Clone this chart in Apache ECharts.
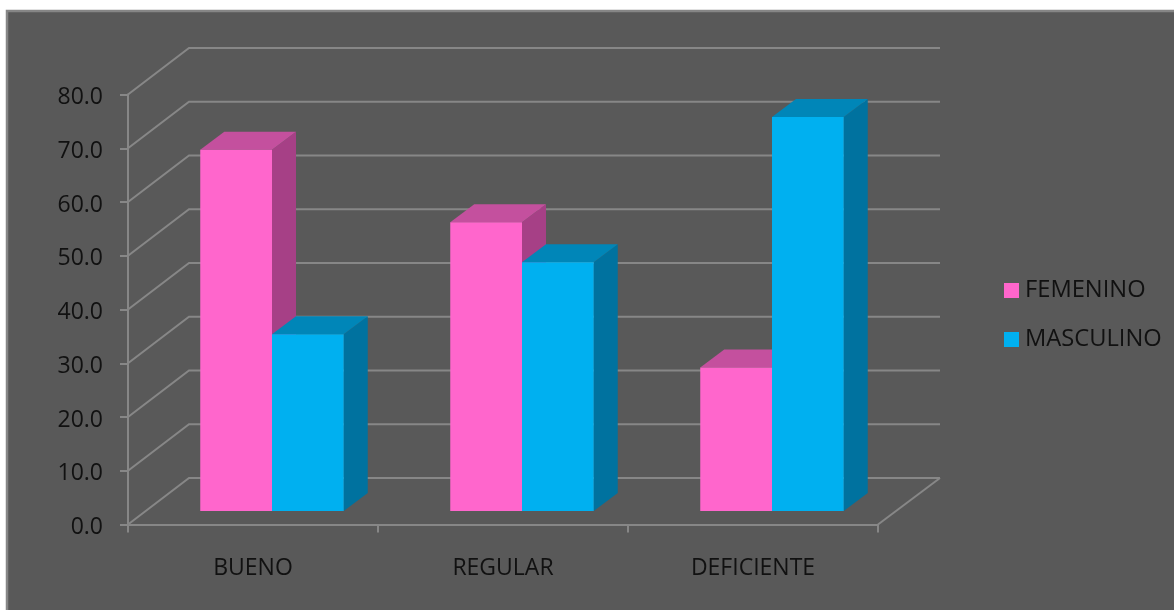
<!DOCTYPE html>
<html>
<head>
<meta charset="utf-8">
<title>Resultados por sexo</title>
<style>
  html, body { margin: 0; padding: 0; background: #ffffff; }
  #chart { width: 1174px; height: 610px; }
</style>
<script src="https://cdn.jsdelivr.net/npm/echarts@6/dist/echarts.min.js"></script>
</head>
<body>
<div id="chart"></div>
<script>
// Chart data
const categories = ['BUENO', 'REGULAR', 'DEFICIENTE'];
const femenino = [67.2, 53.7, 26.7];
const masculino = [32.9, 46.3, 73.3];
const tickValues = [0, 10, 20, 30, 40, 50, 60, 70, 80];

// Oblique projection used to fake the depth of the plot
const wallDX = 61, wallDY = -46.5;
const barShiftX = 19, barShiftY = -13.5;
const barDepthX = 24, barDepthY = -18;
const barBandFraction = 0.287;

const FONT = '"Open Sans", sans-serif';
const TEXT = '#111111';
const LINE = '#878787';
const LINE_WIDTH = 2;

// Back wall gridlines plus the diagonal floor edges
function renderWall(params, api) {
  const v = api.value(0);
  const y = api.coord([0, v])[1];
  const cs = params.coordSys;
  const style = { stroke: LINE, lineWidth: LINE_WIDTH, fill: null };
  const children = [{
    type: 'polyline',
    silent: true,
    shape: { points: [
      [cs.x, y],
      [cs.x + wallDX, y + wallDY],
      [cs.x + cs.width + wallDX + 1, y + wallDY]
    ] },
    style
  }];
  if (v === 0) {
    children.push({
      type: 'line',
      silent: true,
      shape: {
        x1: cs.x + cs.width, y1: y,
        x2: cs.x + cs.width + wallDX + 1, y2: y + wallDY
      },
      style
    });
  }
  return { type: 'group', children };
}

// One box: front, side and top faces. slot -1 sits left of the band centre, 0 right of it.
function boxRenderer(slot, front, side, top) {
  return function (params, api) {
    const idx = api.value(0);
    const base = api.coord([idx, 0]);
    const head = api.coord([idx, api.value(1)]);
    const w = api.size([1, 0])[0] * barBandFraction;
    const x0 = base[0] + barShiftX + slot * w;
    const x1 = x0 + w;
    const y0 = base[1] + barShiftY;
    const y1 = head[1] + barShiftY;
    const poly = (points, fill) => ({
      type: 'polygon', shape: { points }, style: { fill }
    });
    return {
      type: 'group',
      children: [
        poly([[x1, y0], [x1 + barDepthX, y0 + barDepthY],
              [x1 + barDepthX, y1 + barDepthY], [x1, y1]], side),
        poly([[x0, y1], [x1, y1],
              [x1 + barDepthX, y1 + barDepthY], [x0 + barDepthX, y1 + barDepthY]], top),
        poly([[x0, y0], [x1, y0], [x1, y1], [x0, y1]], front)
      ]
    };
  };
}

const chart = echarts.init(document.getElementById('chart'), null, { renderer: 'canvas' });
chart.setOption({
  animation: false,
  backgroundColor: '#ffffff',
  textStyle: { fontFamily: FONT },
  graphic: [{
    type: 'rect',
    z: -10,
    silent: true,
    shape: { x: 7, y: 11, width: 1190, height: 620 },
    style: { fill: '#595959', stroke: '#868686', lineWidth: 2.5 }
  }],
  grid: { left: 128, right: 296, top: 94.5, bottom: 85.5 },
  legend: {
    orient: 'vertical',
    left: 999,
    top: 271.5,
    itemWidth: 15,
    itemHeight: 15,
    itemGap: 21,
    icon: 'rect',
    data: ['FEMENINO', 'MASCULINO'],
    textStyle: { color: TEXT, fontSize: 23.7, fontFamily: FONT, lineHeight: 28, padding: [0, 0, 0, 1] }
  },
  xAxis: {
    type: 'category',
    data: categories,
    axisLine: { lineStyle: { color: LINE, width: LINE_WIDTH } },
    axisTick: { show: true, alignWithLabel: false, length: 8, lineStyle: { color: LINE, width: LINE_WIDTH } },
    axisLabel: { color: TEXT, fontSize: 23, margin: 32, fontFamily: FONT },
    splitLine: { show: false }
  },
  yAxis: {
    type: 'value',
    min: 0,
    max: 80,
    interval: 10,
    axisLine: { show: true, lineStyle: { color: LINE, width: LINE_WIDTH } },
    axisTick: { show: true, length: 8, lineStyle: { color: LINE, width: LINE_WIDTH } },
    axisLabel: {
      margin: 25,
      // The rich box's top padding sits the digits just under each tick
      formatter: v => '{n|' + v.toFixed(1) + '}',
      rich: { n: { color: TEXT, fontSize: 23, fontFamily: FONT, padding: [6, 0, 0, 0] } }
    },
    splitLine: { show: false }
  },
  series: [
    {
      type: 'custom',
      silent: true,
      z: 1,
      renderItem: renderWall,
      encode: { y: 0 },
      data: tickValues.map(v => [v])
    },
    {
      type: 'custom',
      name: 'FEMENINO',
      z: 3,
      itemStyle: { color: '#ff66cc' },
      renderItem: boxRenderer(-1, '#ff66cc', '#a64086', '#c4509e'),
      encode: { x: 0, y: 1 },
      data: femenino.map((v, i) => [i, v])
    },
    {
      type: 'custom',
      name: 'MASCULINO',
      z: 4,
      itemStyle: { color: '#00b0f0' },
      renderItem: boxRenderer(0, '#00b0f0', '#00729f', '#0086b8'),
      encode: { x: 0, y: 1 },
      data: masculino.map((v, i) => [i, v])
    }
  ]
});
</script>
</body>
</html>
